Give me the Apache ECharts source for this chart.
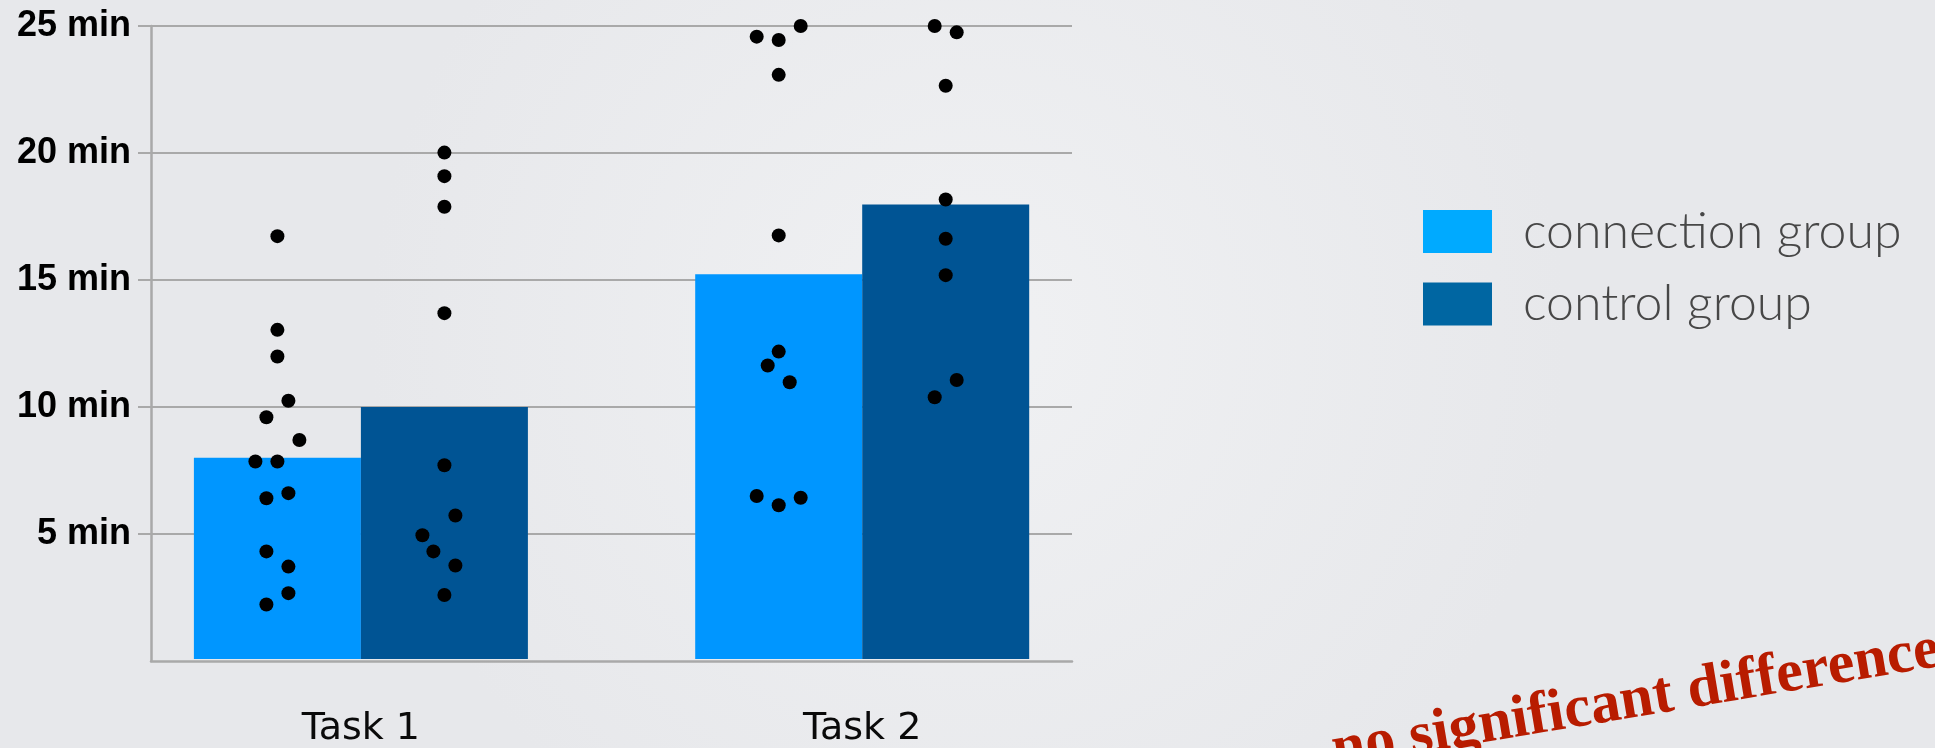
<!DOCTYPE html>
<html><head><meta charset="utf-8">
<script src="https://cdn.jsdelivr.net/npm/echarts@6/dist/echarts.min.js"></script>
<style>html,body{margin:0;padding:0;background:#ECEDEF}#c{width:1935px;height:748px}</style>
</head><body><div id="c"></div>
<script>
// ---- data ----
const categories = ['Task 1', 'Task 2'];
const seriesNames = ['connection group', 'control group'];
const connectionMeans = [7.95, 15.2];
const controlMeans = [9.95, 17.95];
const yTickValues = [5, 10, 15, 20, 25];

// individual participant times (min) and beeswarm column of each dot
const connectionTask1 = [16.7, 13.0, 11.95, 10.2, 9.55, 8.65, 7.8, 7.8, 6.55, 6.35, 4.25, 3.65, 2.6, 2.15];
const connectionTask1Cols = [0, 0, 0, 1, -1, 2, -2, 0, 1, -1, -1, 1, 1, -1];
const controlTask1 = [20.0, 19.07, 17.86, 13.66, 7.65, 5.67, 4.89, 4.25, 3.69, 2.53];
const controlTask1Cols = [0, 0, 0, 0, 0, 1, -2, -1, 1, 0];
const connectionTask2 = [25.0, 24.58, 24.45, 23.07, 16.73, 12.14, 11.59, 10.93, 6.44, 6.07, 6.37];
const connectionTask2Cols = [2, -2, 0, 0, 0, 0, -1, 1, -2, 0, 2];
const controlTask2 = [25.0, 24.75, 22.64, 18.15, 16.6, 15.16, 11.02, 10.34];
const controlTask2Cols = [-1, 1, 0, 0, 0, 0, 1, -1];

const annotation = 'no significant difference';

// ---- styling ----
const BAR_W = 167, DOT_STEP = 11, DOT_SIZE = 14;
const barColors = ['#0096FF', '#005494'];
const legendColors = ['#00AAFF', '#0066A2'];
const gridColor = '#A9A9A9';

function dots(catIdx, vals, cols, groupShift) {
  return vals.map((v, i) => ({
    value: [catIdx, v],
    symbolOffset: [groupShift + cols[i] * DOT_STEP, 0]
  }));
}
const connDots = dots(0, connectionTask1, connectionTask1Cols, -BAR_W / 2)
  .concat(dots(1, connectionTask2, connectionTask2Cols, -BAR_W / 2));
const ctrlDots = dots(0, controlTask1, controlTask1Cols, BAR_W / 2)
  .concat(dots(1, controlTask2, controlTask2Cols, BAR_W / 2));

const chart = echarts.init(document.getElementById('c'), null, {renderer: 'canvas'});
const theta = 9.5 * Math.PI / 180;

chart.setOption({
  backgroundColor: {
    type: 'radial', x: 0.5, y: 0.45, r: 0.8,
    colorStops: [{offset: 0, color: '#F0F1F3'}, {offset: 1, color: '#E7E8EB'}]
  },
  animation: false,
  grid: [
    {left: 151, right: 863, top: 26, bottom: 87},           // axes / gridlines
    {left: 110.25, right: 822.15, top: 26, bottom: 87}      // bars and dots
  ],
  xAxis: [
    {gridIndex: 0, type: 'category', data: categories,
     axisLine: {show: true, lineStyle: {color: gridColor, width: 2.5}},
     axisTick: {show: false}, axisLabel: {show: false}, splitLine: {show: false}},
    {gridIndex: 1, type: 'category', data: categories,
     axisLine: {show: false}, axisTick: {show: false}, splitLine: {show: false},
     axisLabel: {show: true, margin: 51, fontFamily: 'DejaVu Sans', fontSize: 38,
                 lineHeight: 38, color: '#0a0a0a'}}
  ],
  yAxis: [
    {gridIndex: 0, type: 'value', min: 0, max: 25, interval: 5,
     axisLine: {show: true, lineStyle: {color: gridColor, width: 2.5}},
     axisTick: {show: true, length: 13, customValues: yTickValues,
                lineStyle: {color: gridColor, width: 2}},
     axisLabel: {show: true, margin: 20, customValues: yTickValues,
                 formatter: v => (v === 0 ? '' : v + ' min'),
                 fontFamily: 'Liberation Sans', fontWeight: 'bold', fontSize: 36, color: '#000'},
     splitLine: {show: true, lineStyle: {color: gridColor, width: 2}}},
    {gridIndex: 1, type: 'value', min: 0, max: 25, interval: 5, show: false,
     splitLine: {show: false}}
  ],
  legend: {
    orient: 'vertical', left: 1423, top: 206.6, padding: 0,
    itemWidth: 69, itemHeight: 43, itemGap: 22.3, selectedMode: false, icon: 'rect',
    data: seriesNames.map((n, i) => ({name: n, itemStyle: {color: legendColors[i]}})),
    textStyle: {fontFamily: 'Lato', fontWeight: 300, fontSize: 50, lineHeight: 50,
                color: '#474747', padding: [0, 0, 0, 26]}
  },
  series: [
    {name: seriesNames[0], type: 'bar', xAxisIndex: 1, yAxisIndex: 1,
     data: connectionMeans, barWidth: BAR_W, barGap: '0%',
     itemStyle: {color: barColors[0]}},
    {name: seriesNames[1], type: 'bar', xAxisIndex: 1, yAxisIndex: 1,
     data: controlMeans, barWidth: BAR_W, barGap: '0%',
     itemStyle: {color: barColors[1]}},
    {name: 'connection times', type: 'scatter', xAxisIndex: 1, yAxisIndex: 1, z: 5,
     symbol: 'circle', symbolSize: DOT_SIZE, itemStyle: {color: '#000', opacity: 1}, data: connDots},
    {name: 'control times', type: 'scatter', xAxisIndex: 1, yAxisIndex: 1, z: 5,
     symbol: 'circle', symbolSize: DOT_SIZE, itemStyle: {color: '#000', opacity: 1}, data: ctrlDots}
  ],
  graphic: [{
    type: 'text', x: 1636, y: 701, rotation: theta, z: 10,
    style: {text: annotation, font: 'bold 60px "Liberation Serif"', fill: '#B81C00',
            textAlign: 'center', textVerticalAlign: 'middle', verticalAlign: 'middle'}
  }]
});
</script></body></html>
